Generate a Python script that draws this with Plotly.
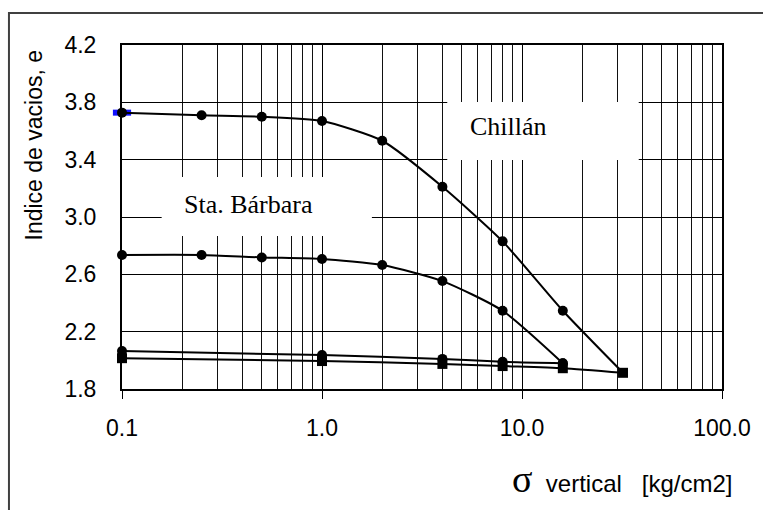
import plotly.graph_objects as go

# Data
x_chillan_load = [0.1, 0.25, 0.5, 1, 2, 4, 8, 16, 32]
e_chillan_load = [3.728, 3.71, 3.70, 3.67, 3.532, 3.211, 2.83, 2.346, 1.913]

x_sb_load = [0.1, 0.25, 0.5, 1, 2, 4, 8, 16]
e_sb_load = [2.735, 2.735, 2.718, 2.707, 2.665, 2.553, 2.346, 1.98]

x_sb_unload = [16, 8, 4, 1, 0.1]
e_sb_unload = [1.98, 1.99, 2.01, 2.037, 2.065]

x_chillan_unload = [32, 16, 8, 4, 1, 0.1]
e_chillan_unload = [1.913, 1.945, 1.96, 1.975, 1.995, 2.015]

FONT = "Liberation Sans, Arial, sans-serif"
SERIF = "Liberation Serif, Times New Roman, serif"

fig = go.Figure()

# selection artifact (blue) behind first Chillán point
fig.add_trace(go.Scatter(
    x=x_chillan_load[:1], y=e_chillan_load[:1], mode="markers",
    marker=dict(symbol="line-ew", size=13, color="#1010ff",
                line=dict(color="#1010ff", width=6)),
    cliponaxis=False, showlegend=False, hoverinfo="skip"))

line_style = dict(color="black", width=2, shape="spline", smoothing=0.6)
circle = dict(symbol="circle", size=10, color="black", line=dict(width=0))
square = dict(symbol="square", size=10, color="black", line=dict(width=0))

fig.add_trace(go.Scatter(
    x=x_sb_unload, y=e_sb_unload, mode="lines+markers",
    line=line_style, marker=circle, cliponaxis=False, showlegend=False))
fig.add_trace(go.Scatter(
    x=x_sb_load, y=e_sb_load, mode="lines+markers",
    line=line_style, marker=circle, cliponaxis=False, showlegend=False))
fig.add_trace(go.Scatter(
    x=x_chillan_load, y=e_chillan_load, mode="lines",
    line=line_style, cliponaxis=False, showlegend=False))
fig.add_trace(go.Scatter(
    x=x_chillan_load[:-1], y=e_chillan_load[:-1], mode="markers",
    marker=circle, cliponaxis=False, showlegend=False))
fig.add_trace(go.Scatter(
    x=x_chillan_unload, y=e_chillan_unload, mode="lines+markers",
    line=line_style, marker=square, cliponaxis=False, showlegend=False))

fig.update_layout(
    width=763, height=510,
    margin=dict(l=122, r=36, t=45, b=121),
    paper_bgcolor="white", plot_bgcolor="white",
    font=dict(family=FONT, size=23, color="black"),
    xaxis=dict(
        type="log", range=[-1, 2], dtick=1, tickformat=".1f",
        showgrid=True, gridcolor="black", gridwidth=1,
        minor=dict(dtick="D1", showgrid=True, gridcolor="#111", gridwidth=1, ticks=""),
        ticks="outside", ticklen=8, tickcolor="black", tickwidth=1,
        ticklabelstandoff=9,
        showline=True, linecolor="black", linewidth=2, mirror=True,
        zeroline=False),
    yaxis=dict(
        range=[1.8, 4.2], dtick=0.4, tick0=1.8, tickformat=".1f",
        showgrid=True, gridcolor="black", gridwidth=1,
        ticks="", ticklabelstandoff=19,
        showline=True, linecolor="black", linewidth=2, mirror=True,
        zeroline=False),
    shapes=[
        dict(type="rect", xref="paper", yref="paper",
             x0=0.0661, x1=0.4165, y0=0.4448, y1=0.6163,
             fillcolor="white", line=dict(width=0), layer="above"),
        dict(type="rect", xref="paper", yref="paper",
             x0=0.5421, x1=0.8612, y0=0.6657, y1=0.8343,
             fillcolor="white", line=dict(width=0), layer="above"),
        dict(type="rect", xref="paper", yref="paper",
             x0=-0.1884, x1=1.2, y0=-0.6, y1=1.093,
             fillcolor="rgba(0,0,0,0)", line=dict(color="#404040", width=2)),
    ],
    annotations=[
        dict(text="Indice de vacios, e", textangle=-90, xref="paper", yref="paper",
             x=-0.146, y=0.709, xanchor="center", yanchor="middle", showarrow=False,
             font=dict(family=FONT, size=23)),
        dict(text="<span style='font-family:Liberation Serif;font-size:38px'>σ</span>"
                  "&nbsp;&nbsp;vertical&nbsp;&nbsp;&nbsp;[kg/cm2]",
             xref="paper", yref="paper", x=1.022, y=-0.262,
             xanchor="right", yanchor="middle", showarrow=False,
             font=dict(family=FONT, size=24)),
        dict(text="Sta. Bárbara", xref="paper", yref="paper", x=0.0992, y=0.535,
             xanchor="left", yanchor="middle", showarrow=False,
             font=dict(family=SERIF, size=26)),
        dict(text="Chillán", xref="paper", yref="paper", x=0.5769, y=0.764,
             xanchor="left", yanchor="middle", showarrow=False,
             font=dict(family=SERIF, size=26)),
    ],
)

fig.write_html("out.html")
